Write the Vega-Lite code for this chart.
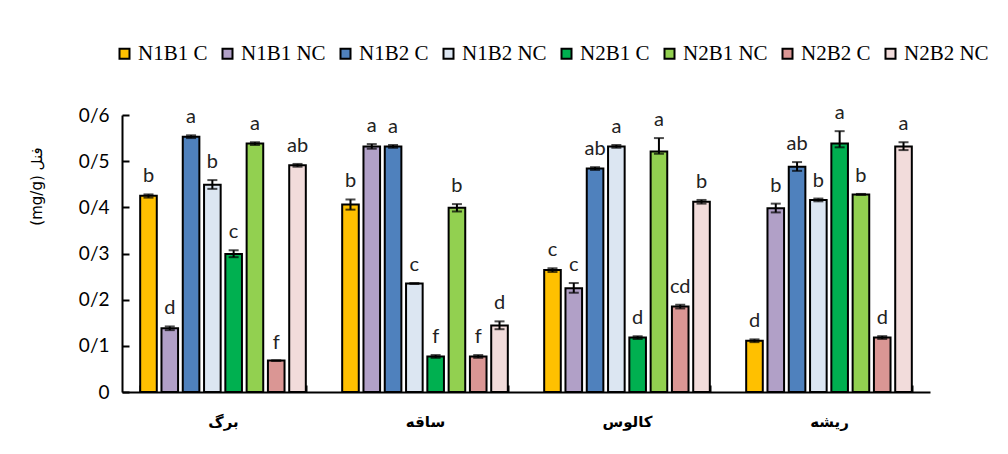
{
  "$schema": "https://vega.github.io/schema/vega-lite/v6.json",
  "width": 808,
  "height": 277,
  "autosize": {"type": "none"},
  "padding": {"left": 122, "top": 115, "right": 78, "bottom": 62},
  "background": "white",
  "config": {"view": {"stroke": null}},
  "data": {"values": [
    {"organ": "برگ", "t": "N1B1 C", "v": 0.425, "lo": 0.421, "hi": 0.428, "l": "b"},
    {"organ": "برگ", "t": "N1B1 NC", "v": 0.138, "lo": 0.134, "hi": 0.142, "l": "d"},
    {"organ": "برگ", "t": "N1B2 C", "v": 0.553, "lo": 0.55, "hi": 0.556, "l": "a"},
    {"organ": "برگ", "t": "N1B2 NC", "v": 0.449, "lo": 0.44, "hi": 0.459, "l": "b"},
    {"organ": "برگ", "t": "N2B1 C", "v": 0.299, "lo": 0.292, "hi": 0.307, "l": "c"},
    {"organ": "برگ", "t": "N2B1 NC", "v": 0.538, "lo": 0.535, "hi": 0.541, "l": "a"},
    {"organ": "برگ", "t": "N2B2 C", "v": 0.068, "lo": 0.068, "hi": 0.068, "l": "f"},
    {"organ": "برگ", "t": "N2B2 NC", "v": 0.491, "lo": 0.488, "hi": 0.494, "l": "ab"},
    {"organ": "ساقه", "t": "N1B1 C", "v": 0.406, "lo": 0.395, "hi": 0.417, "l": "b"},
    {"organ": "ساقه", "t": "N1B1 NC", "v": 0.532, "lo": 0.527, "hi": 0.537, "l": "a"},
    {"organ": "ساقه", "t": "N1B2 C", "v": 0.532, "lo": 0.529, "hi": 0.535, "l": "a"},
    {"organ": "ساقه", "t": "N1B2 NC", "v": 0.235, "lo": 0.234, "hi": 0.236, "l": "c"},
    {"organ": "ساقه", "t": "N2B1 C", "v": 0.077, "lo": 0.074, "hi": 0.08, "l": "f"},
    {"organ": "ساقه", "t": "N2B1 NC", "v": 0.399, "lo": 0.391, "hi": 0.407, "l": "b"},
    {"organ": "ساقه", "t": "N2B2 C", "v": 0.077, "lo": 0.074, "hi": 0.08, "l": "f"},
    {"organ": "ساقه", "t": "N2B2 NC", "v": 0.144, "lo": 0.136, "hi": 0.153, "l": "d"},
    {"organ": "کالوس", "t": "N1B1 C", "v": 0.264, "lo": 0.26, "hi": 0.268, "l": "c"},
    {"organ": "کالوس", "t": "N1B1 NC", "v": 0.225, "lo": 0.215, "hi": 0.236, "l": "c"},
    {"organ": "کالوس", "t": "N1B2 C", "v": 0.484, "lo": 0.481, "hi": 0.487, "l": "ab"},
    {"organ": "کالوس", "t": "N1B2 NC", "v": 0.532, "lo": 0.529, "hi": 0.535, "l": "a"},
    {"organ": "کالوس", "t": "N2B1 C", "v": 0.118, "lo": 0.115, "hi": 0.121, "l": "d"},
    {"organ": "کالوس", "t": "N2B1 NC", "v": 0.521, "lo": 0.516, "hi": 0.55, "l": "a"},
    {"organ": "کالوس", "t": "N2B2 C", "v": 0.185, "lo": 0.181, "hi": 0.189, "l": "cd"},
    {"organ": "کالوس", "t": "N2B2 NC", "v": 0.412, "lo": 0.408, "hi": 0.416, "l": "b"},
    {"organ": "ریشه", "t": "N1B1 C", "v": 0.111, "lo": 0.108, "hi": 0.114, "l": "d"},
    {"organ": "ریشه", "t": "N1B1 NC", "v": 0.398, "lo": 0.389, "hi": 0.408, "l": "b"},
    {"organ": "ریشه", "t": "N1B2 C", "v": 0.488, "lo": 0.479, "hi": 0.498, "l": "ab"},
    {"organ": "ریشه", "t": "N1B2 NC", "v": 0.416, "lo": 0.413, "hi": 0.419, "l": "b"},
    {"organ": "ریشه", "t": "N2B1 C", "v": 0.538, "lo": 0.53, "hi": 0.565, "l": "a"},
    {"organ": "ریشه", "t": "N2B1 NC", "v": 0.428, "lo": 0.427, "hi": 0.429, "l": "b"},
    {"organ": "ریشه", "t": "N2B2 C", "v": 0.118, "lo": 0.115, "hi": 0.121, "l": "d"},
    {"organ": "ریشه", "t": "N2B2 NC", "v": 0.532, "lo": 0.524, "hi": 0.541, "l": "a"}
  ]},
  "encoding": {
    "x": {
      "field": "organ", "type": "nominal",
      "sort": ["برگ", "ساقه", "کالوس", "ریشه"],
      "scale": {"paddingInner": 0.18, "paddingOuter": 0.09},
      "axis": {
        "title": null, "labelAngle": 0,
        "labelFont": "DejaVu Sans", "labelFontWeight": "bold", "labelFontSize": 15,
        "labelColor": "black", "labelPadding": 29,
        "domainColor": "black", "domainWidth": 2,
        "tickBand": "extent", "tickSize": -7, "tickColor": "black", "tickWidth": 2
      }
    },
    "xOffset": {
      "field": "t", "type": "nominal",
      "sort": ["N1B1 C", "N1B1 NC", "N1B2 C", "N1B2 NC", "N2B1 C", "N2B1 NC", "N2B2 C", "N2B2 NC"],
      "scale": {"paddingInner": 0.22}
    }
  },
  "layer": [
    {
      "mark": {"type": "bar", "stroke": "black", "strokeWidth": 2},
      "encoding": {
        "y": {
          "field": "v", "type": "quantitative",
          "scale": {"domain": [0, 0.6], "nice": false},
          "axis": {
            "title": "(mg/g) فنل",
            "titleFont": "DejaVu Sans", "titleFontSize": 15, "titleFontWeight": "normal", "titleColor": "black",
            "titleAngle": 270, "titleX": -86, "titleY": 71, "titleAlign": "center", "titleBaseline": "middle",
            "values": [0, 0.1, 0.2, 0.3, 0.4, 0.5, 0.6],
            "labelExpr": "datum.value == 0 ? '0' : replace(format(datum.value, '.1f'), '.', '/')",
            "labelFont": "Lato", "labelFontSize": 19, "labelColor": "black", "labelPadding": 20,
            "grid": false, "domainColor": "black", "domainWidth": 2,
            "tickSize": -7, "tickColor": "black", "tickWidth": 2
          }
        },
        "color": {
          "field": "t", "type": "nominal",
          "scale": {
            "domain": ["N1B1 C", "N1B1 NC", "N1B2 C", "N1B2 NC", "N2B1 C", "N2B1 NC", "N2B2 C", "N2B2 NC"],
            "range": ["#FFC000", "#B1A0C7", "#4F81BD", "#DCE6F2", "#00B050", "#92D050", "#DA9694", "#F2DCDB"]
          },
          "legend": {
            "title": null, "orient": "none", "direction": "horizontal", "columns": 8,
            "legendX": -8, "legendY": -72,
            "symbolType": "square", "symbolSize": 100, "symbolStrokeColor": "black", "symbolStrokeWidth": 2,
            "labelFont": "Liberation Serif", "labelFontSize": 21, "labelColor": "black",
            "labelOffset": 3, "columnPadding": 9
          }
        }
      }
    },
    {
      "mark": {"type": "rule", "color": "black", "strokeWidth": 2},
      "encoding": {"y": {"field": "lo", "type": "quantitative"}, "y2": {"field": "hi"}}
    },
    {
      "mark": {"type": "tick", "color": "black", "thickness": 2, "size": 10},
      "encoding": {"y": {"field": "hi", "type": "quantitative"}}
    },
    {
      "mark": {"type": "tick", "color": "black", "thickness": 2, "size": 10},
      "encoding": {"y": {"field": "lo", "type": "quantitative"}}
    },
    {
      "mark": {"type": "text", "font": "Lato", "fontSize": 20, "color": "#222", "baseline": "alphabetic", "dy": -12},
      "encoding": {"y": {"field": "hi", "type": "quantitative"}, "text": {"field": "l"}}
    }
  ]
}
